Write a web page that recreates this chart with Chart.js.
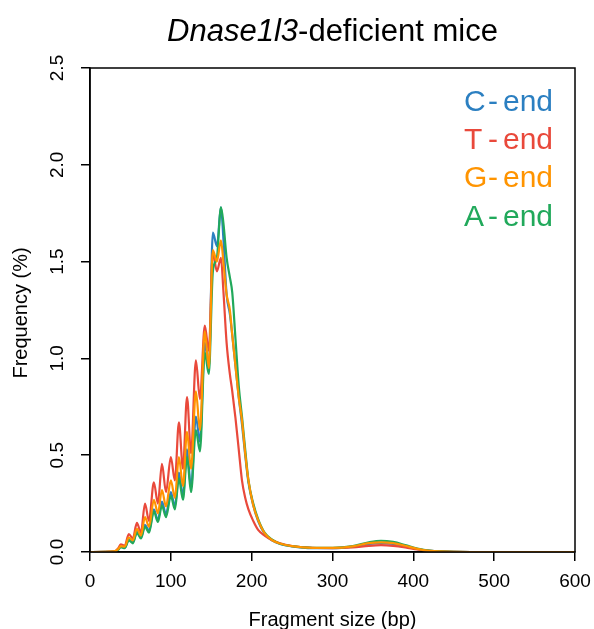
<!DOCTYPE html>
<html>
<head>
<meta charset="utf-8">
<script src="https://cdn.jsdelivr.net/npm/chart.js@4.4.1/dist/chart.umd.min.js"></script>
<style>
  html, body { margin: 0; padding: 0; background: #ffffff; }
  #wrap { width: 594px; height: 629px; }
</style>
</head>
<body>
<div id="wrap"><canvas id="c" width="594" height="629"></canvas></div>
<script>
// ---- data ----
const fragmentSizes = [0, 30, 35, 38, 43, 48, 53, 58, 63, 68, 73, 79, 84, 89, 94, 100, 105, 110, 115, 120, 125, 131, 136, 142, 147, 152, 157, 162, 165, 169, 173, 176, 180, 184, 188, 192, 196, 202, 208, 216, 225, 235, 250, 275, 300, 325, 345, 360, 375, 390, 405, 420, 450, 500, 600];

const cEnd = [0, 0.002, 0.014, 0.027, 0.022, 0.065, 0.05, 0.105, 0.075, 0.14, 0.11, 0.22, 0.165, 0.26, 0.195, 0.31, 0.235, 0.41, 0.29, 0.53, 0.33, 0.70, 0.57, 1.08, 0.95, 1.65, 1.58, 1.78, 1.62, 1.33, 1.23, 1.12, 0.96, 0.80, 0.66, 0.50, 0.36, 0.24, 0.16, 0.095, 0.06, 0.042, 0.029, 0.02, 0.02, 0.028, 0.042, 0.046, 0.042, 0.03, 0.015, 0.006, 0.001, 0, 0];

const tEnd = [0, 0.003, 0.02, 0.04, 0.033, 0.093, 0.07, 0.15, 0.10, 0.25, 0.16, 0.36, 0.25, 0.455, 0.31, 0.49, 0.37, 0.67, 0.43, 0.80, 0.51, 0.99, 0.79, 1.17, 1.04, 1.55, 1.45, 1.52, 1.35, 1.08, 0.92, 0.83, 0.69, 0.53, 0.37, 0.28, 0.22, 0.16, 0.114, 0.085, 0.062, 0.045, 0.031, 0.022, 0.02, 0.024, 0.032, 0.035, 0.032, 0.024, 0.013, 0.006, 0.001, 0, 0];

const gEnd = [0, 0.003, 0.016, 0.03, 0.028, 0.075, 0.06, 0.12, 0.085, 0.18, 0.13, 0.27, 0.20, 0.32, 0.235, 0.37, 0.28, 0.49, 0.34, 0.62, 0.43, 0.83, 0.63, 1.14, 0.95, 1.56, 1.50, 1.61, 1.50, 1.33, 1.25, 1.12, 0.96, 0.80, 0.68, 0.51, 0.37, 0.24, 0.165, 0.098, 0.062, 0.044, 0.03, 0.021, 0.021, 0.029, 0.046, 0.05, 0.046, 0.032, 0.016, 0.006, 0.001, 0, 0];

const aEnd = [0, 0.002, 0.012, 0.025, 0.02, 0.06, 0.045, 0.10, 0.07, 0.13, 0.10, 0.21, 0.155, 0.24, 0.18, 0.29, 0.22, 0.38, 0.27, 0.49, 0.31, 0.63, 0.52, 1.03, 0.92, 1.45, 1.52, 1.78, 1.70, 1.52, 1.42, 1.34, 1.10, 0.86, 0.70, 0.53, 0.37, 0.25, 0.17, 0.10, 0.065, 0.043, 0.03, 0.021, 0.021, 0.03, 0.05, 0.058, 0.052, 0.036, 0.018, 0.007, 0.001, 0, 0];

const seriesLabels = ['C-end', 'T-end', 'G-end', 'A-end'];
const xTickValues = [0, 100, 200, 300, 400, 500, 600];
const yTickValues = [0, 0.5, 1.0, 1.5, 2.0, 2.5];
const yTickLabels = ['0.0', '0.5', '1.0', '1.5', '2.0', '2.5'];

// ---- styles ----
const colors = ['#2B7FC1', '#E9493B', '#FF9400', '#21A95B'];
const drawOrder = [3, 2, 0, 1]; // lower order drawn on top
const FONT = '"Liberation Sans", Arial, Helvetica, sans-serif';

function pts(ys) { return fragmentSizes.map((x, i) => ({ x: x, y: ys[i] })); }
const allSeries = [cEnd, tEnd, gEnd, aEnd];

const datasets = allSeries.map((ys, i) => ({
  label: seriesLabels[i],
  data: pts(ys),
  borderColor: colors[i],
  backgroundColor: colors[i],
  borderWidth: 2.2,
  pointRadius: 0,
  fill: false,
  cubicInterpolationMode: 'monotone',
  order: drawOrder[i]
}));

const decorPlugin = {
  id: 'decor',
  afterDraw(chart) {
    const ctx = chart.ctx;
    const a = chart.chartArea;
    const ys = chart.scales.y;
    ctx.save();
    // box
    ctx.strokeStyle = '#000';
    ctx.lineWidth = 1.5;
    ctx.strokeRect(a.left, a.top, a.right - a.left, a.bottom - a.top);

    // y tick labels (rotated, R style)
    ctx.fillStyle = '#000';
    ctx.font = '19px ' + FONT;
    ctx.textAlign = 'center';
    ctx.textBaseline = 'middle';
    yTickValues.forEach((v, i) => {
      const py = ys.getPixelForValue(v);
      ctx.save();
      ctx.translate(58, py);
      ctx.rotate(-Math.PI / 2);
      ctx.fillText(yTickLabels[i], 0, 0);
      ctx.restore();
    });

    // y axis title
    ctx.font = '20px ' + FONT;
    ctx.save();
    ctx.translate(21, 313);
    ctx.rotate(-Math.PI / 2);
    ctx.textBaseline = 'middle';
    ctx.fillText('Frequency (%)', 0, 0);
    ctx.restore();

    // x axis title
    ctx.textBaseline = 'alphabetic';
    ctx.textAlign = 'center';
    ctx.fillText('Fragment size (bp)', (a.left + a.right) / 2, 626);

    // title, italic gene name + normal text
    const cx = (a.left + a.right) / 2;
    const part1 = 'Dnase1l3';
    const part2 = '-deficient mice';
    ctx.font = 'italic 31px ' + FONT;
    const w1 = ctx.measureText(part1).width;
    ctx.font = '31px ' + FONT;
    const w2 = ctx.measureText(part2).width;
    const x0 = cx - (w1 + w2) / 2;
    ctx.textAlign = 'left';
    ctx.textBaseline = 'alphabetic';
    ctx.font = 'italic 31px ' + FONT;
    ctx.fillText(part1, x0, 41);
    ctx.font = '31px ' + FONT;
    ctx.fillText(part2, x0 + w1, 41);

    // legend (text only, coloured)
    ctx.font = '30px ' + FONT;
    const lx = 464;
    const baselines = [111, 149, 187, 226];
    chart.data.datasets.forEach((ds, i) => {
      const parts = ds.label.split('-');
      ctx.fillStyle = ds.borderColor;
      ctx.fillText(parts[0], lx, baselines[i]);
      ctx.fillText('-', lx + 24, baselines[i]);
      ctx.fillText(parts[1], lx + 39, baselines[i]);
    });
    ctx.restore();
  }
};

new Chart(document.getElementById('c'), {
  type: 'line',
  data: { datasets: datasets },
  options: {
    responsive: false,
    animation: false,
    layout: { padding: { left: 0, right: 19, top: 68, bottom: 0 } },
    plugins: { legend: { display: false }, title: { display: false }, tooltip: { enabled: false } },
    scales: {
      x: {
        type: 'linear',
        min: 0, max: 600,
        afterBuildTicks(scale) { scale.ticks = xTickValues.map(v => ({ value: v })); },
        afterFit(scale) { scale.height = 77; scale.paddingLeft = 0; scale.paddingRight = 0; },
        border: { display: true, color: '#000', width: 1.5 },
        grid: { drawOnChartArea: false, drawTicks: true, tickLength: 9, color: '#000', lineWidth: 1.5 },
        ticks: { color: '#000', font: { family: FONT, size: 19 }, padding: 9, maxRotation: 0, autoSkip: false }
      },
      y: {
        type: 'linear',
        min: 0, max: 2.5,
        afterBuildTicks(scale) { scale.ticks = yTickValues.map(v => ({ value: v })); },
        afterFit(scale) { scale.width = 90; scale.paddingTop = 0; scale.paddingBottom = 0; },
        border: { display: true, color: '#000', width: 1.5 },
        grid: { drawOnChartArea: false, drawTicks: true, tickLength: 9, color: '#000', lineWidth: 1.5 },
        ticks: { color: 'rgba(0,0,0,0)', font: { family: FONT, size: 19 }, padding: 4 }
      }
    }
  },
  plugins: [decorPlugin]
});
</script>
</body>
</html>
